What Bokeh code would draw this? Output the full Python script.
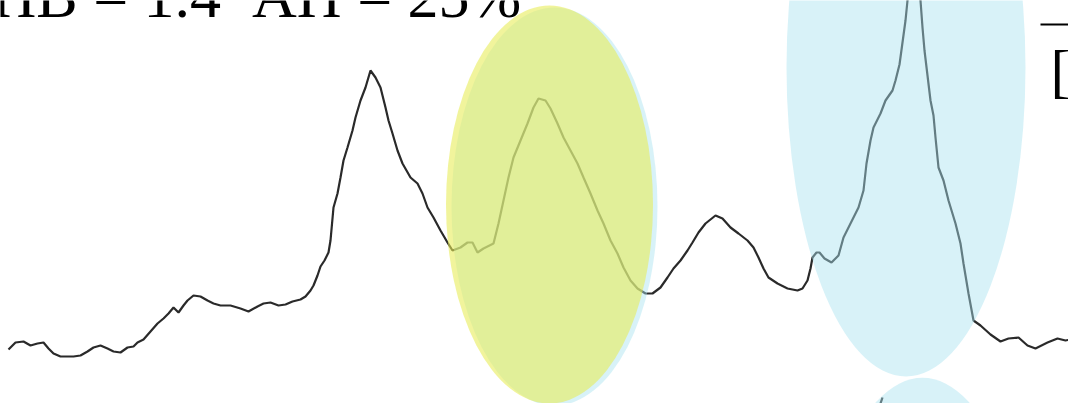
from bokeh.plotting import figure
from bokeh.models import Range1d
from bokeh.core.properties import value
from bokeh.embed import file_html
from bokeh.resources import INLINE

# Recorded trace: sample position and signal amplitude
t = [8, 15, 23, 30, 37, 43, 48, 53, 60, 67, 73, 80, 87, 93, 100, 107, 113, 120, 127, 133,
     137, 143, 150, 157, 163, 168, 173, 178, 183, 187, 193, 200, 207, 213, 220, 230, 240, 248, 257, 263,
     270, 278, 285, 292, 300, 305, 310, 313, 317, 320, 324, 328, 330, 333, 337, 340, 343, 347, 352, 355,
     360, 365, 370, 375, 380, 385, 388, 392, 397, 402, 410, 417, 422, 427, 433, 440, 447, 452, 460, 467,
     472, 477, 483, 493, 498, 503, 508, 513, 520, 527, 533, 538, 545, 550, 557, 563, 570, 577, 583, 590,
     597, 603, 610, 617, 623, 630, 637, 645, 652, 660, 667, 673, 680, 687, 692, 698, 705, 715, 722, 730,
     738, 747, 753, 758, 763, 768, 777, 787, 797, 802, 807, 810, 812, 816, 819, 824, 831, 838, 843, 850,
     858, 863, 866, 870, 873, 880, 885, 892, 895, 899, 902, 905, 907, 913, 920, 922, 924, 927, 930, 933,
     935, 938, 943, 948, 955, 960, 963, 968, 973, 980, 990, 1000, 1008, 1018, 1027, 1035, 1047, 1057, 1065, 1070]
signal = [54, 61, 62, 58, 60, 61, 55, 50, 47, 47, 47, 48, 52, 56, 58, 55, 52, 51, 56, 57,
          61, 64, 72, 80, 85, 90, 96, 91, 98, 103, 108, 107, 103, 100, 98, 98, 95, 92, 97, 100,
          101, 98, 99, 102, 104, 107, 113, 118, 128, 137, 143, 151, 163, 196, 210, 226, 243, 256, 273, 286,
          303, 316, 333, 326, 316, 296, 283, 270, 253, 240, 226, 220, 210, 196, 186, 173, 161, 153, 156, 161,
          161, 151, 155, 160, 180, 203, 226, 246, 263, 280, 296, 305, 303, 295, 280, 266, 253, 240, 226, 210,
          193, 180, 163, 150, 136, 123, 115, 110, 110, 116, 126, 135, 143, 153, 161, 171, 180, 188, 185, 176,
          170, 163, 156, 146, 135, 126, 120, 115, 113, 115, 123, 135, 146, 151, 151, 145, 141, 148, 166, 180,
          196, 213, 240, 263, 276, 290, 303, 313, 323, 339, 361, 383, 403, 463, 403, 376, 353, 328, 303, 288,
          266, 236, 223, 203, 180, 160, 140, 110, 83, 78, 69, 62, 65, 66, 58, 55, 61, 65, 63, 64]
assert len(t) == len(signal)

# Start of the next trace below
t_next = [879, 882]
signal_next = [-3, 6]

# Highlighted regions: centre, width, height
region_x = [554, 905.5, 922]
region_y = [197, 336, -283]
region_w = [206, 239, 239]
region_h = [398, 618, 618]
focus_x = [549]
focus_y = [199]
focus_w = [207]
focus_h = [398]

# Two non-breaking spaces keep the wide gap between the two measures
title_text = "HB = 1.4\u00a0\u00a0AH = 25%"
bracket_text = "["

p = figure(width=1068, height=403, output_backend="svg", toolbar_location=None,
           x_range=Range1d(0, 1068), y_range=Range1d(0, 403),
           min_border=0, outline_line_color=None, background_fill_color="white")
p.axis.visible = False
p.xgrid.visible = False
p.ygrid.visible = False

p.text(x=[-9], y=[408], text=[title_text], text_font=value("Liberation Serif"),
       text_font_size="62px", text_color="black", text_baseline="alphabetic")
p.text(x=[1050], y=[333], text=[bracket_text], text_font=value("Liberation Serif"),
       text_font_size="60px", text_color="black", text_baseline="alphabetic")
p.line(x=[1040, 1070], y=[379, 379], line_color="black", line_width=2)

p.line(x=t, y=signal, line_color="#2a2a2a", line_width=2.2)
p.line(x=t_next, y=signal_next, line_color="#2a2a2a", line_width=2.2)

p.ellipse(x=region_x, y=region_y, width=region_w, height=region_h,
          fill_color="#a8e3ef", fill_alpha=0.45, line_color=None)
p.ellipse(x=focus_x, y=focus_y, width=focus_w, height=focus_h,
          fill_color="#e7ec57", fill_alpha=0.59, line_color=None)

open("out.html", "w").write(file_html(p, INLINE))
